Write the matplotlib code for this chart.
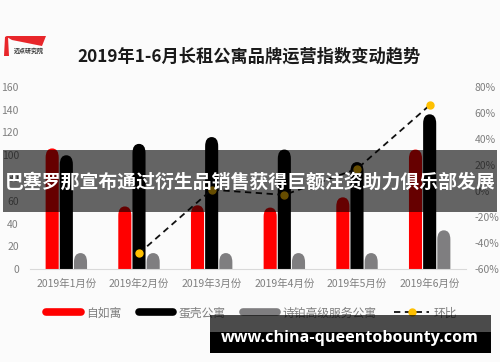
import matplotlib
matplotlib.use("Agg")
import matplotlib.pyplot as plt
from matplotlib.patches import FancyBboxPatch, Rectangle, Polygon
from matplotlib.lines import Line2D
import numpy as np

plt.rcParams['font.family'] = ['Noto Sans CJK SC', 'DejaVu Sans']

categories = ['2019年1月份', '2019年2月份', '2019年3月份', '2019年4月份', '2019年5月份', '2019年6月份']
ziroom = [106, 55, 56, 54, 63, 105]
danke = [100, 110, 116, 105, 94, 136]
shibo = [14, 14, 14, 14, 14, 34]
mom_idx = [1, 2, 3, 4, 5]
mom = [-48, 1, -3, 17, 66]
series_names = ['自如寓', '蛋壳公寓', '诗铂高级服务公寓', '环比']
left_ticks = [0, 20, 40, 60, 80, 100, 120, 140, 160]
right_ticks = [-60, -40, -20, 0, 20, 40, 60, 80]

W, H = 500, 362
fig = plt.figure(figsize=(5, 3.62), dpi=100, facecolor='#fbfbfb')
ax = fig.add_axes([30 / W, 1 - 269 / H, 436 / W, 182 / H])
ax.set_facecolor('none')
ax2 = ax.twinx()
ax2.set_facecolor('none')

x = np.arange(len(categories))
bw = 0.18
off = 0.195
colors = ['#ff0000', '#000000', '#7f7e80']
ax.set_xlim(-0.5, 5.5)
ax.set_ylim(0, 160)

xu = 6 / 436
yu = 160 / 182
asp = yu / xu

for vals, dx, c in zip([ziroom, danke, shibo], [-off, 0, off], colors):
    bars = ax.bar(x + dx, vals, width=bw, color=c)
    for r in bars:
        bx, bwid, bh = r.get_x(), r.get_width(), r.get_height()
        r.remove()
        p = FancyBboxPatch((bx, -20), bwid, bh + 20,
                           boxstyle=f"round,pad=0,rounding_size={bwid/2}",
                           mutation_aspect=asp * 1.4, facecolor=c, edgecolor='none')
        ax.add_patch(p)

ax.set_yticks(left_ticks)
ax.set_xticks(x)
ax.set_xticklabels(categories)
ax2.set_ylim(-60, 80)
ax2.set_yticks(right_ticks)
ax2.set_yticklabels([f'{v}%' for v in right_ticks])

ax2.plot(mom_idx, mom, color='#111111', lw=1.3, ls=(0, (3.5, 2.5)),
         marker='o', markersize=5, markerfacecolor='#ffc000', markeredgecolor='#ffc000', zorder=5)

for a in (ax, ax2):
    for s in a.spines.values():
        s.set_visible(False)
    a.tick_params(length=0, colors='#7f7f7f', labelsize=7.5)
ax.spines['bottom'].set_visible(True)
ax.spines['bottom'].set_color('#d9d9d9')
ax.tick_params(axis='x', pad=7)
ax.tick_params(axis='y', pad=8)
ax2.tick_params(axis='y', pad=6)

handles = [Line2D([], [], color=colors[0], lw=5.5, solid_capstyle='round'),
           Line2D([], [], color=colors[1], lw=5.5, solid_capstyle='round'),
           Line2D([], [], color=colors[2], lw=5.5, solid_capstyle='round'),
           Line2D([], [], color='#111111', lw=1.3, ls=(0, (3.5, 2.5)), marker='o',
                  markersize=5, markerfacecolor='#ffc000', markeredgecolor='#ffc000')]
leg = fig.legend(handles, series_names, loc='center', bbox_to_anchor=(252 / W, 1 - 313 / H),
                 ncol=4, frameon=False, fontsize=8.5, handlelength=2.9, columnspacing=1.5,
                 handletextpad=0.45, labelcolor='#7f7f7f')

fig.text(249 / W, 1 - 56 / H, '2019年1-6月长租公寓品牌运营指数变动趋势', ha='center', va='center',
         fontsize=12.4, fontweight='bold', color='#1a1a1a')

fig.add_artist(Polygon([[5 / W, 1 - 36 / H], [46 / W, 1 - 36 / H], [42 / W, 1 - 46 / H], [12 / W, 1 - 40 / H]],
                       closed=True, facecolor='#e8262a', edgecolor='none', transform=fig.transFigure))
fig.add_artist(Polygon([[5 / W, 1 - 37 / H], [8 / W, 1 - 37 / H], [9 / W, 1 - 56 / H], [4 / W, 1 - 56 / H]],
                       closed=True, facecolor='#e8262a', edgecolor='none', transform=fig.transFigure))
fig.text(29 / W, 1 - 50.5 / H, '迈点研究院', ha='center', va='center', fontsize=4.3,
         fontweight='bold', color='#333333')

fig.add_artist(Rectangle((3 / W, 1 - 212 / H), 494 / W, 62 / H, transform=fig.transFigure,
                         facecolor='black', alpha=0.6, edgecolor='none', zorder=10))
fig.text(250 / W, 1 - 182 / H, '巴塞罗那宣布通过衍生品销售获得巨额注资助力俱乐部发展', ha='center', va='center',
         fontsize=13.6, fontweight='bold', color='white', zorder=11)

fig.add_artist(Rectangle((210 / W, 1 - 332 / H), 281 / W, 17 / H, transform=fig.transFigure,
                         facecolor='black', alpha=0.7, edgecolor='none', zorder=10))
fig.add_artist(Rectangle((210 / W, 1 - 353 / H), 281 / W, 21 / H, transform=fig.transFigure,
                         facecolor='black', edgecolor='none', zorder=10))
fig.text(350 / W, 1 - 338 / H, 'www.china-queentobounty.com', ha='center', va='center',
         fontsize=11.6, fontweight='bold', color='white', family='Open Sans', zorder=11)

fig.savefig('out.png', dpi=100, facecolor=fig.get_facecolor())
